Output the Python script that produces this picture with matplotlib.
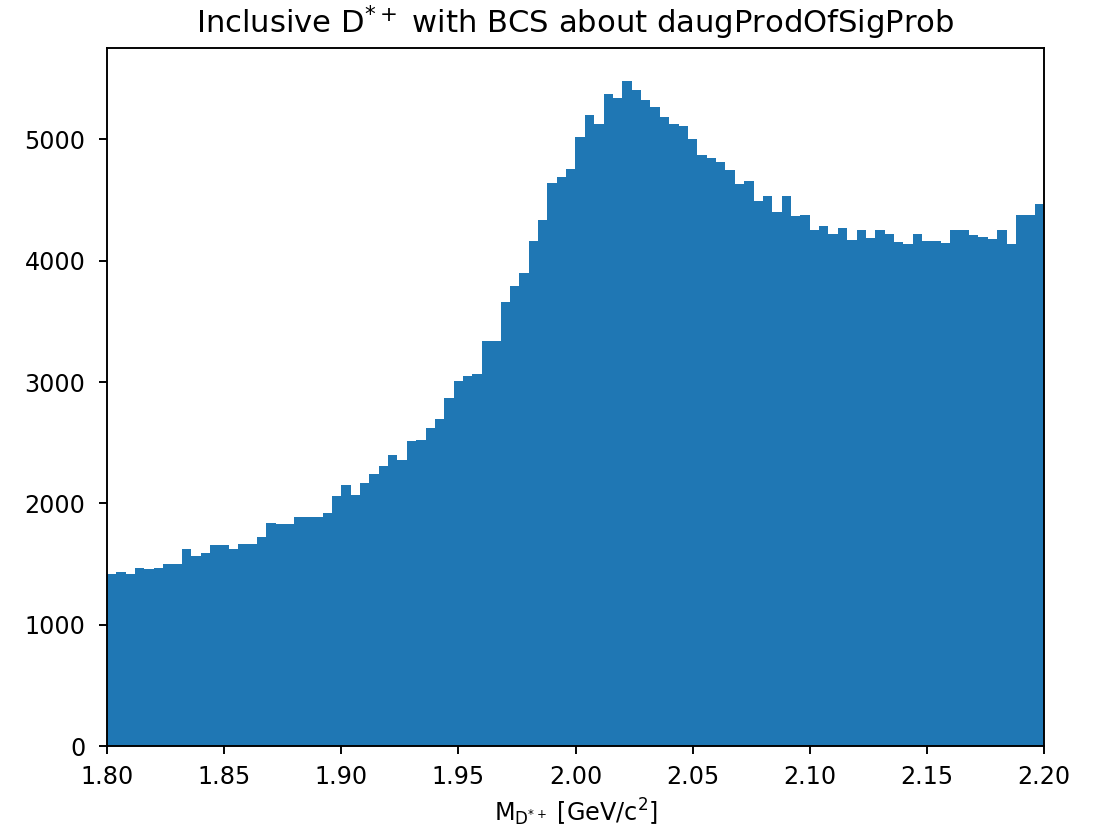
import numpy as np
import matplotlib
matplotlib.use("Agg")
import matplotlib.pyplot as plt

# Histogram range and binning
x_min, x_max, n_bins = 1.80, 2.20, 100

# Candidate counts per bin (bin width 0.004 GeV/c^2)
counts = [
    1422, 1436, 1422, 1469, 1455, 1469, 1499, 1499, 1623, 1565,
    1592, 1653, 1653, 1623, 1669, 1669, 1721, 1840, 1829, 1829,
    1889, 1889, 1889, 1922, 2059, 2153, 2073, 2169, 2246, 2309,
    2402, 2356, 2512, 2526, 2619, 2696, 2869, 3007, 3053, 3070,
    3339, 3339, 3662, 3789, 3899, 4163, 4333, 4643, 4690, 4755,
    5019, 5202, 5129, 5376, 5343, 5480, 5409, 5327, 5266, 5189,
    5129, 5113, 5003, 4876, 4849, 4813, 4750, 4632, 4657, 4489,
    4533, 4401, 4533, 4366, 4377, 4256, 4283, 4223, 4267, 4168,
    4256, 4190, 4250, 4223, 4151, 4135, 4223, 4163, 4163, 4149,
    4250, 4250, 4209, 4196, 4176, 4250, 4135, 4379, 4379, 4470,
]

title = r"Inclusive $\mathrm{D}^{*+}$ with BCS about daugProdOfSigProb"
xlabel = r"M$_{\mathrm{D^{*+}}}$ [GeV/c$^{2}$]"
xticks = [1.80, 1.85, 1.90, 1.95, 2.00, 2.05, 2.10, 2.15, 2.20]

s = 1.72  # scale factor relative to default style
plt.rcParams.update({
    "font.size": 10 * s,
    "axes.linewidth": 0.8 * s,
    "xtick.major.size": 3.5 * s,
    "ytick.major.size": 3.5 * s,
    "xtick.major.width": 0.8 * s,
    "ytick.major.width": 0.8 * s,
    "xtick.major.pad": 4.5 * s,
    "ytick.major.pad": 5.5 * s,
})

edges = np.linspace(x_min, x_max, n_bins + 1)
centers = 0.5 * (edges[:-1] + edges[1:])

fig = plt.figure(figsize=(11.02, 8.39), dpi=100)
ax = fig.add_axes([107 / 1102, (839 - 746) / 839, 937 / 1102, 698 / 839])
ax.hist(centers, bins=edges, weights=counts, color="#1f77b4")
ax.set_xlim(x_min, x_max)
ax.set_xticks(xticks)
ax.set_xticklabels([f"{t:.2f}" for t in xticks])
ax.set_title(title, fontsize=12.8 * s, pad=6 * s)
ax.set_xlabel(xlabel, labelpad=3 * s)

fig.savefig("out.png", dpi=100)
